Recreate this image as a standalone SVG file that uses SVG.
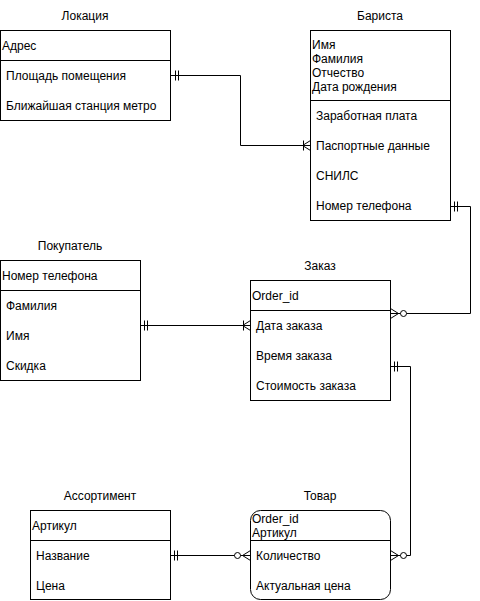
<svg xmlns="http://www.w3.org/2000/svg" width="480" height="601" viewBox="0 0 480 601">
<style>
.box{fill:#fff;stroke:#000;stroke-width:1}
.ln{fill:none;stroke:#000;stroke-width:1}
text{font-family:"Liberation Sans",Arial,sans-serif;font-size:12px;fill:#000}
.t{text-anchor:middle}
</style>
<rect width="480" height="601" fill="#fff"/>
<g id="connectors">
  <!-- Локация - Бариста -->
  <path class="ln" d="M170.5,75.5 H240.5 V145.5 H310.5"/>
  <path class="ln" d="M175.5,70.5 V80.5 M178.5,70.5 V80.5"/>
  <path class="ln" d="M303.5,140.5 V150.5 M302.5,145.5 L310.5,140.5 M302.5,145.5 L310.5,150.5"/>
  <!-- Бариста - Заказ -->
  <path class="ln" d="M450.5,206.5 H470.5 V313.5 H390.5"/>
  <path class="ln" d="M454.5,201.5 V211.5 M457.5,201.5 V211.5"/>
  <path class="ln" d="M390.5,308.5 L398.5,313.5 L390.5,318.5"/>
  <circle class="box" cx="403.5" cy="313.5" r="3"/>
  <!-- Покупатель - Заказ -->
  <path class="ln" d="M140.5,325.5 H250.5"/>
  <path class="ln" d="M144.5,320.5 V330.5 M147.5,320.5 V330.5"/>
  <path class="ln" d="M243.5,320.5 V330.5 M242.5,325.5 L250.5,320.5 M242.5,325.5 L250.5,330.5"/>
  <!-- Заказ - Товар -->
  <path class="ln" d="M390.5,366.5 H410.5 V555.5 H390.5"/>
  <path class="ln" d="M394.5,361.5 V371.5 M397.5,361.5 V371.5"/>
  <path class="ln" d="M390.5,550.5 L398.5,555.5 L390.5,560.5"/>
  <circle class="box" cx="403.5" cy="555.5" r="3"/>
  <!-- Ассортимент - Товар -->
  <path class="ln" d="M170.5,555.5 H250.5"/>
  <path class="ln" d="M174.5,550.5 V560.5 M177.5,550.5 V560.5"/>
  <path class="ln" d="M250.5,550.5 L242.5,555.5 L250.5,560.5"/>
  <circle class="box" cx="237.5" cy="555.5" r="3"/>
</g>
<g id="lokaciya">
  <text class="t" x="85" y="20">Локация</text>
  <rect class="box" x="0.5" y="30.5" width="170" height="90"/>
  <path class="ln" d="M0.5,60.5 H170.5"/>
  <text x="2" y="50">Адрес</text>
  <text x="6" y="80">Площадь помещения</text>
  <text x="6" y="110">Ближайшая станция метро</text>
</g>
<g id="barista">
  <text class="t" x="380" y="20">Бариста</text>
  <rect class="box" x="310.5" y="30.5" width="140" height="190"/>
  <path class="ln" d="M310.5,100.5 H450.5"/>
  <text x="312" y="49">Имя</text>
  <text x="312" y="63">Фамилия</text>
  <text x="312" y="77">Отчество</text>
  <text x="312" y="91">Дата рождения</text>
  <text x="316" y="120">Заработная плата</text>
  <text x="316" y="150">Паспортные данные</text>
  <text x="316" y="180">СНИЛС</text>
  <text x="316" y="210">Номер телефона</text>
</g>
<g id="pokupatel">
  <text class="t" x="70" y="250">Покупатель</text>
  <rect class="box" x="0.5" y="260.5" width="140" height="120"/>
  <path class="ln" d="M0.5,290.5 H140.5"/>
  <text x="2" y="280">Номер телефона</text>
  <text x="6" y="310">Фамилия</text>
  <text x="6" y="340">Имя</text>
  <text x="6" y="370">Скидка</text>
</g>
<g id="zakaz">
  <text class="t" x="320" y="270">Заказ</text>
  <rect class="box" x="250.5" y="280.5" width="140" height="120"/>
  <path class="ln" d="M250.5,310.5 H390.5"/>
  <text x="252" y="300">Order_id</text>
  <text x="256" y="330">Дата заказа</text>
  <text x="256" y="360">Время заказа</text>
  <text x="256" y="390">Стоимость заказа</text>
</g>
<g id="assortiment">
  <text class="t" x="100" y="500">Ассортимент</text>
  <rect class="box" x="30.5" y="510.5" width="140" height="89"/>
  <path class="ln" d="M30.5,540.5 H170.5"/>
  <text x="32" y="530">Артикул</text>
  <text x="36" y="560">Название</text>
  <text x="36" y="590">Цена</text>
</g>
<g id="tovar">
  <text class="t" x="320" y="500">Товар</text>
  <rect class="box" x="250.5" y="510.5" width="140" height="89" rx="10" ry="10"/>
  <path class="ln" d="M250.5,540.5 H390.5"/>
  <text x="252" y="523">Order_id</text>
  <text x="252" y="537">Артикул</text>
  <text x="256" y="560">Количество</text>
  <text x="256" y="590">Актуальная цена</text>
</g>
</svg>
